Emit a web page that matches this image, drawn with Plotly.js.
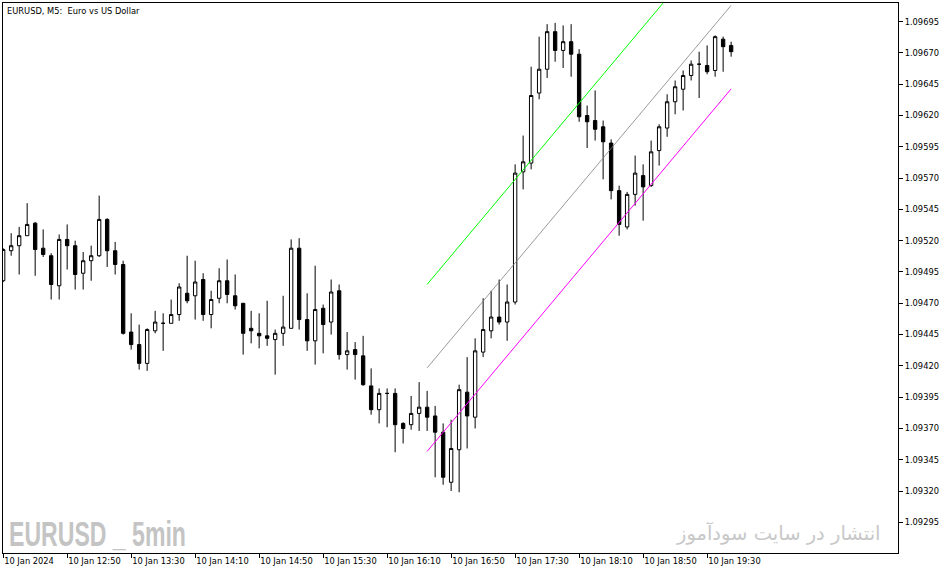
<!DOCTYPE html>
<html>
<head>
<meta charset="utf-8">
<script src="https://cdn.plot.ly/plotly-3.0.1.min.js"></script>
<style>
html,body{margin:0;padding:0;background:#fff;}
#chart{width:951px;height:574px;}
</style>
</head>
<body>
<div id="chart"></div>
<script>
// bar index (5-minute bars starting 10 Jan 2024 12:10)
const barIndex = Array.from({length: 92}, (_, i) => i);

const openP = [1.09488,1.09512,1.09516,1.09524,1.09534,1.09514,1.09508,1.09484,1.09521,1.09516,
1.09494,1.09504,1.09508,1.09537,1.09512,1.09501,1.09447,1.09437,1.09422,1.09448,
1.09454,1.09454,1.09461,1.09478,1.09476,1.09489,1.09461,1.09474,1.09488,1.09476,
1.09470,1.09450,1.09446,1.09444,1.09441,1.09446,1.09450,1.09514,1.09457,1.09440,
1.09466,1.09455,1.09480,1.09429,1.09433,1.09428,1.09404,1.09385,1.09398,1.09398,
1.09374,1.09373,1.09382,1.09387,1.09380,1.09367,1.09327,1.09353,1.09399,1.09379,
1.09431,1.09448,1.09459,1.09455,1.09471,1.09575,1.09582,1.09638,1.09657,1.09687,
1.09672,1.09679,1.09669,1.09620,1.09616,1.09611,1.09598,1.09560,1.09531,1.09557,
1.09572,1.09564,1.09592,1.09610,1.09631,1.09641,1.09652,1.09661,1.09660,1.09656,
1.09681,1.09676];
const highP = [1.09514,1.09526,1.09531,1.09550,1.09535,1.09529,1.09510,1.09525,1.09533,1.09520,
1.09511,1.09516,1.09556,1.09538,1.09519,1.09504,1.09462,1.09453,1.09450,1.09464,
1.09462,1.09473,1.09486,1.09508,1.09504,1.09494,1.09480,1.09498,1.09505,1.09493,
1.09470,1.09464,1.09462,1.09472,1.09449,1.09476,1.09521,1.09522,1.09478,1.09500,
1.09469,1.09489,1.09485,1.09447,1.09439,1.09444,1.09418,1.09402,1.09402,1.09402,
1.09375,1.09396,1.09407,1.09400,1.09388,1.09374,1.09377,1.09405,1.09427,1.09442,
1.09474,1.09480,1.09489,1.09485,1.09581,1.09604,1.09659,1.09683,1.09693,1.09694,
1.09692,1.09693,1.09673,1.09628,1.09640,1.09616,1.09601,1.09564,1.09559,1.09588,
1.09581,1.09600,1.09613,1.09637,1.09648,1.09656,1.09664,1.09671,1.09676,1.09684,
1.09683,1.09679];
const lowP = [1.09487,1.09508,1.09493,1.09524,1.09492,1.09507,1.09473,1.09473,1.09497,1.09481,
1.09481,1.09488,1.09507,1.09499,1.09493,1.09445,1.09433,1.09417,1.09416,1.09446,
1.09432,1.09454,1.09456,1.09470,1.09457,1.09456,1.09450,1.09470,1.09470,1.09465,
1.09429,1.09438,1.09434,1.09436,1.09413,1.09436,1.09450,1.09449,1.09432,1.09421,
1.09430,1.09445,1.09425,1.09417,1.09409,1.09404,1.09381,1.09374,1.09371,1.09351,
1.09358,1.09369,1.09368,1.09368,1.09331,1.09325,1.09320,1.09319,1.09354,1.09370,
1.09427,1.09442,1.09453,1.09440,1.09469,1.09561,1.09577,1.09633,1.09650,1.09663,
1.09658,1.09651,1.09615,1.09594,1.09600,1.09569,1.09553,1.09524,1.09529,1.09548,
1.09536,1.09563,1.09580,1.09603,1.09621,1.09624,1.09648,1.09634,1.09653,1.09651,
1.09655,1.09667];
const closeP = [1.09513,1.09516,1.09524,1.09533,1.09513,1.09509,1.09485,1.09521,1.09516,1.09493,
1.09504,1.09508,1.09537,1.09512,1.09501,1.09446,1.09437,1.09422,1.09449,1.09455,
1.09454,1.09461,1.09483,1.09472,1.09487,1.09461,1.09473,1.09488,1.09477,1.09468,
1.09446,1.09448,1.09444,1.09442,1.09446,1.09451,1.09514,1.09457,1.09440,1.09465,
1.09453,1.09479,1.09429,1.09432,1.09429,1.09405,1.09385,1.09398,1.09398,1.09373,
1.09370,1.09382,1.09387,1.09379,1.09367,1.09331,1.09354,1.09401,1.09380,1.09432,
1.09449,1.09459,1.09455,1.09471,1.09574,1.09583,1.09636,1.09657,1.09687,1.09672,
1.09679,1.09669,1.09619,1.09615,1.09609,1.09599,1.09560,1.09533,1.09557,1.09574,
1.09563,1.09591,1.09611,1.09631,1.09643,1.09652,1.09661,1.09661,1.09655,1.09683,
1.09675,1.09671];

// regression channel (start bar, end bar)
const channelX = [53, 91];
const channelUpper = [1.094851, 1.097747];
const channelMid = [1.094184, 1.097080];
const channelLower = [1.093517, 1.096413];

// axis ticks
const xTickVals = [0, 8, 16, 24, 32, 40, 48, 56, 64, 72, 80, 88];
const xTickText = ['10 Jan 2024','10 Jan 12:50','10 Jan 13:30','10 Jan 14:10','10 Jan 14:50',
  '10 Jan 15:30','10 Jan 16:10','10 Jan 16:50','10 Jan 17:30','10 Jan 18:10','10 Jan 18:50','10 Jan 19:30'];
const yTickVals = [1.09295,1.09320,1.09345,1.09370,1.09395,1.09420,1.09445,1.09470,1.09495,
  1.09520,1.09545,1.09570,1.09595,1.09620,1.09645,1.09670,1.09695];
const yTickText = yTickVals.map(v => v.toFixed(5));

const axisFont = {family: 'DejaVu Sans, sans-serif', size: 8.3, color: '#000'};

const traces = [
  {
    type: 'candlestick', x: barIndex, open: openP, high: highP, low: lowP, close: closeP,
    increasing: {line: {color: '#000', width: 1}, fillcolor: '#ffffff'},
    decreasing: {line: {color: '#000', width: 1}, fillcolor: '#000000'},
    whiskerwidth: 0, hoverinfo: 'skip', showlegend: false
  },
  {type: 'scatter', mode: 'lines', x: channelX, y: channelUpper, line: {color: '#00ff00', width: 1}, hoverinfo: 'skip', showlegend: false},
  {type: 'scatter', mode: 'lines', x: channelX, y: channelMid, line: {color: '#808080', width: 0.8}, hoverinfo: 'skip', showlegend: false},
  {type: 'scatter', mode: 'lines', x: channelX, y: channelLower, line: {color: '#ff00ff', width: 1}, hoverinfo: 'skip', showlegend: false}
];

const layout = {
  width: 951, height: 574,
  margin: {l: 3, r: 53, t: 3, b: 21, pad: 0},
  paper_bgcolor: '#ffffff', plot_bgcolor: '#ffffff',
  showlegend: false,
  boxgap: 0.4,
  xaxis: {
    range: [-0.02, 111.86], showgrid: false, zeroline: false,
    rangeslider: {visible: false},
    tickmode: 'array', tickvals: xTickVals, ticktext: xTickText,
    ticks: 'outside', ticklen: 4, tickcolor: '#000', tickwidth: 1,
    ticklabelposition: 'outside right',
    showline: true, mirror: true, linecolor: '#000', linewidth: 1,
    tickfont: axisFont, fixedrange: true
  },
  yaxis: {
    side: 'right', range: [1.092705, 1.097099], showgrid: false, zeroline: false,
    tickmode: 'array', tickvals: yTickVals, ticktext: yTickText,
    ticks: 'outside', ticklen: 4, tickcolor: '#000', tickwidth: 1,
    showline: true, mirror: true, linecolor: '#000', linewidth: 1,
    tickfont: axisFont, fixedrange: true
  },
  annotations: [
    {xref: 'paper', yref: 'paper', x: 0.0025, y: 0.9985, xanchor: 'left', yanchor: 'top',
     text: 'EURUSD, M5:  Euro vs US Dollar', showarrow: false, font: axisFont},
    {xref: 'paper', yref: 'paper', x: 0.005, y: 0.036, xanchor: 'left', yanchor: 'middle',
     text: '<b>EURUSD _ 5min</b>', showarrow: false,
     font: {family: 'Liberation Sans, Arial, sans-serif', size: 36, color: '#c4c4c4'}},
    {xref: 'paper', yref: 'paper', x: 0.982, y: 0.036, xanchor: 'right', yanchor: 'middle',
     text: 'انتشار در سایت سودآموز', showarrow: false,
     font: {family: 'DejaVu Sans, sans-serif', size: 19.5, color: '#c8c8c8'}}
  ]
};

Plotly.newPlot('chart', traces, layout, {displayModeBar: false, staticPlot: true}).then(gd => {
  // condense the watermark horizontally (narrow bold look of the original)
  const texts = gd.querySelectorAll('.annotation-text');
  texts.forEach(t => {
    if (t.textContent.indexOf('EURUSD _') === 0) {
      const bb = t.getBBox();
      const target = 177;
      const s = Math.min(1, target / bb.width);
      const x0 = bb.x;
      t.setAttribute('transform', 'translate(' + x0 + ',0) scale(' + s + ',1) translate(' + (-x0) + ',0)');
    }
  });
});
</script>
</body>
</html>
